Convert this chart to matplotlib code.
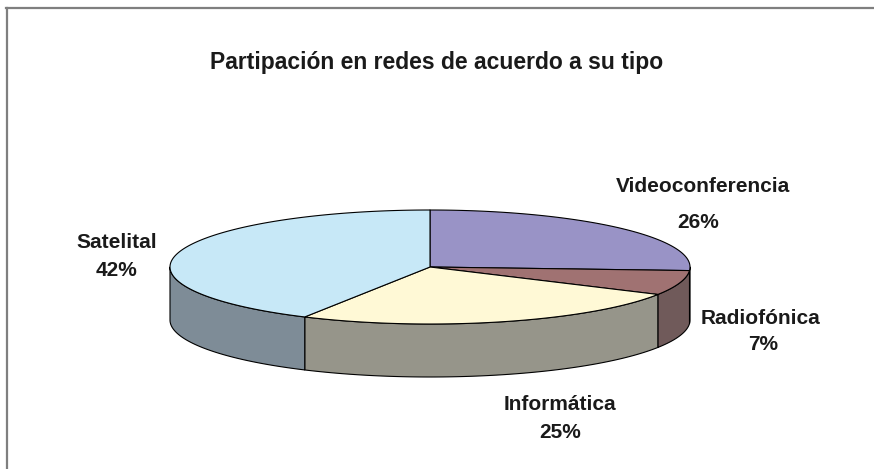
import numpy as np
import matplotlib
matplotlib.use("Agg")
import matplotlib.pyplot as plt
from matplotlib.patches import Polygon
from matplotlib.lines import Line2D
from matplotlib import font_manager

# ---- data ----
categories = ["Videoconferencia", "Radiofónica", "Informática", "Satelital"]
values = [26, 7, 25, 42]
title = "Partipación en redes de acuerdo a su tipo"

# ---- style ----
top_colors = ["#9993C6", "#A07272", "#FFF9D6", "#C7E8F7"]
side_colors = ["#6F6A92", "#705A5A", "#96958A", "#7E8C97"]
label_pos = [((703, 187), (698, 223)),
             ((760, 319), (763, 345)),
             ((560, 405), (560, 432)),
             ((117, 243), (117, 270))]

names = [f.name for f in font_manager.fontManager.ttflist]
fam = ["Liberation Sans Narrow", "Arial Narrow", "Liberation Sans", "DejaVu Sans"]
fam = [f for f in fam if f in names] or ["DejaVu Sans"]

W, H = 874, 469
fig = plt.figure(figsize=(W / 100, H / 100), dpi=100)
ax = fig.add_axes([0, 0, 1, 1])
ax.set_xlim(0, W)
ax.set_ylim(H, 0)
ax.axis("off")

cx, cy, a, b, d = 430, 267, 260, 57, 53

def pt(theta_deg, depth=0.0):
    t = np.radians(theta_deg)
    return cx + a * np.cos(t), cy - b * np.sin(t) + depth

vals = np.array(values, dtype=float)
frac = vals / vals.sum()
cum = np.concatenate([[0], np.cumsum(frac)])
starts = 90 - cum[:-1] * 360
ends = 90 - cum[1:] * 360

# walls (front half only: theta in [-180, 0])
for i in range(len(vals)):
    lo = max(ends[i], -180)
    hi = min(starts[i], 0)
    if hi <= lo:
        continue
    th = np.linspace(lo, hi, 100)
    xs, ys = pt(th)
    top = np.column_stack([xs, ys])
    bot = np.column_stack([xs, ys + d])[::-1]
    poly = Polygon(np.vstack([top, bot]), closed=True, facecolor=side_colors[i],
                   edgecolor="black", linewidth=0.8, joinstyle="round")
    ax.add_patch(poly)

# top faces
for i in range(len(vals)):
    th = np.linspace(starts[i], ends[i], 200)
    xs, ys = pt(th)
    verts = np.vstack([[cx, cy], np.column_stack([xs, ys])])
    poly = Polygon(verts, closed=True, facecolor=top_colors[i],
                   edgecolor="black", linewidth=0.8, joinstyle="round")
    ax.add_patch(poly)

# labels
for i, cat in enumerate(categories):
    (nx, ny), (px, py) = label_pos[i]
    pct = round(frac[i] * 100)
    ax.text(nx, ny, cat, ha="center", va="center", fontsize=15,
            fontweight="bold", family=fam, color="#1a1a1a")
    ax.text(px, py, f"{pct}%", ha="center", va="center", fontsize=15,
            fontweight="bold", family=fam, color="#1a1a1a")

ax.text(437, 62, title, ha="center", va="center", fontsize=16.5,
        fontweight="bold", family=fam, color="#1a1a1a")

# frame (left and top edges only)
ax.add_line(Line2D([7, 7], [H + 5, 8.5], color="#7f7f7f", linewidth=1.6))
ax.add_line(Line2D([6.2, W + 5], [8.5, 8.5], color="#7f7f7f", linewidth=1.6))

fig.savefig("out.png", dpi=100)
